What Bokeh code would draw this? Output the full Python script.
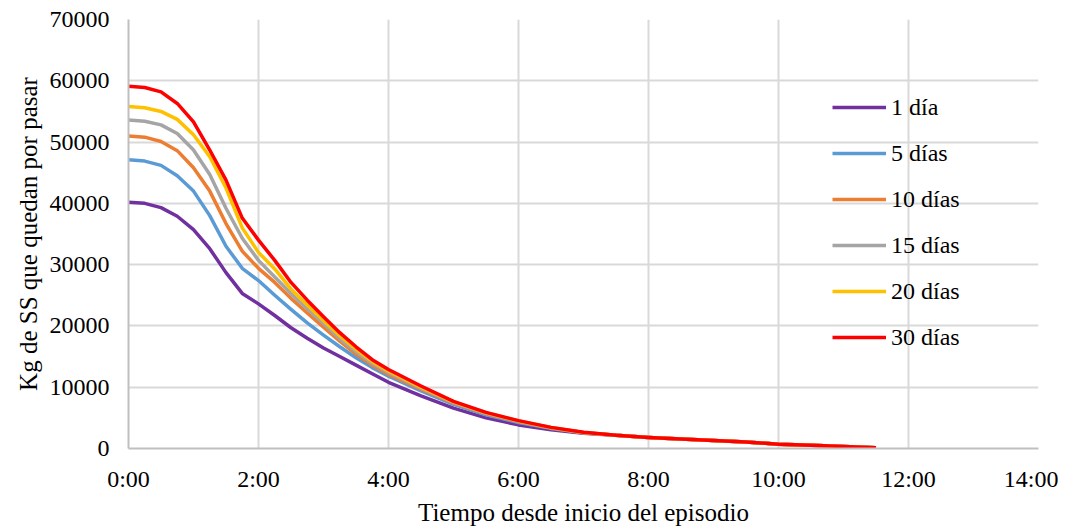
from bokeh.plotting import figure
from bokeh.models import Range1d, FixedTicker, Legend, LegendItem, NumeralTickFormatter
from bokeh.embed import file_html
from bokeh.resources import INLINE

# time in hours since start of the episode
hours = [0, 0.25, 0.5, 0.75, 1.0, 1.25, 1.5, 1.75, 2.0, 2.25, 2.5, 2.75, 3.0, 3.25, 3.5, 3.75,
         4.0, 4.5, 5.0, 5.5, 6.0, 6.5, 7.0, 7.5, 8.0, 8.5, 9.0, 9.5, 10.0, 10.5, 11.0, 11.5]

tail = [2150, 1800, 1550, 1300, 1050, 700, 520, 330, 120]

dia_1 = [40200, 40000, 39300, 37900, 35700, 32600, 28700, 25300, 23600, 21700, 19700, 18000,
         16400, 15000, 13600, 12200, 10800, 8600, 6600, 5000, 3850, 3050, 2480] + tail
dias_5 = [47100, 46900, 46200, 44500, 42000, 38000, 33000, 29400, 27400, 25000, 22700, 20500,
          18500, 16600, 14800, 13200, 11800, 9400, 7200, 5500, 4250, 3280, 2550] + tail
dias_10 = [51000, 50800, 50100, 48600, 45800, 42000, 36700, 32200, 29400, 27100, 24500, 22100,
           19800, 17500, 15400, 13600, 12100, 9700, 7400, 5680, 4400, 3360, 2580] + tail
dias_15 = [53600, 53400, 52800, 51400, 48700, 44700, 39200, 34300, 30700, 28000, 25300, 22800,
           20400, 17900, 15800, 13900, 12400, 9850, 7500, 5750, 4450, 3390, 2600] + tail
dias_20 = [55800, 55600, 55000, 53700, 51200, 47600, 42500, 36000, 32000, 29300, 26000, 23400,
           20900, 18400, 16200, 14200, 12650, 10000, 7600, 5820, 4500, 3420, 2620] + tail
dias_30 = [59100, 58900, 58200, 56300, 53300, 48700, 43800, 37600, 34000, 30700, 27100, 24200,
           21500, 18900, 16600, 14500, 12900, 10200, 7700, 5900, 4550, 3450, 2650] + tail

series_names = ["1 día", "5 días", "10 días", "15 días", "20 días", "30 días"]
series_values = [dia_1, dias_5, dias_10, dias_15, dias_20, dias_30]
colors = ["#7030A0", "#5B9BD5", "#ED7D31", "#A5A5A5", "#FFC000", "#FF0000"]

x_ticks = [0, 2, 4, 6, 8, 10, 12, 14]
x_tick_labels = ["0:00", "2:00", "4:00", "6:00", "8:00", "10:00", "12:00", "14:00"]
y_ticks = [0, 10000, 20000, 30000, 40000, 50000, 60000, 70000]

FONT = "'Liberation Serif', 'Times New Roman', serif"

p = figure(width=1058, height=531, output_backend="svg", toolbar_location=None,
           x_range=Range1d(0, 14), y_range=Range1d(0, 70000))
p.min_border_left = 128
p.min_border_top = 19
p.min_border_bottom = 83
p.min_border_right = 20
p.outline_line_color = None
p.background_fill_color = "white"
p.border_fill_color = "white"

renderers = []
for name, vals, col in zip(series_names, series_values, colors):
    r = p.line(hours, vals, line_color=col, line_width=3.5, line_join="round")
    renderers.append((name, r))

# axes
p.xaxis.ticker = FixedTicker(ticks=x_ticks)
p.xaxis.major_label_overrides = {t: l for t, l in zip(x_ticks, x_tick_labels)}
p.yaxis.ticker = FixedTicker(ticks=y_ticks)
p.yaxis.formatter = NumeralTickFormatter(format="0")

for ax in (p.xaxis, p.yaxis):
    ax.major_tick_line_color = None
    ax.major_tick_out = 0
    ax.major_tick_in = 0
    ax.minor_tick_line_color = None
    ax.minor_tick_out = 0
    ax.axis_line_color = "#bfbfbf"
    ax.axis_line_width = 2
    ax.major_label_text_font = FONT
    ax.major_label_text_font_size = "24px"
    ax.major_label_text_color = "black"
    ax.axis_label_text_font = FONT
    ax.axis_label_text_font_size = "25px"
    ax.axis_label_text_font_style = "normal"
    ax.axis_label_text_color = "black"

p.xaxis.axis_label = "Tiempo desde inicio del episodio"
p.yaxis.axis_label = "Kg de SS que quedan por pasar"
p.xaxis.major_label_standoff = 17
p.xaxis.axis_label_standoff = 4
p.yaxis.major_label_standoff = 19
p.yaxis.axis_label_standoff = 5

for g in (p.xgrid, p.ygrid):
    g.grid_line_color = "#d9d9d9"
    g.grid_line_width = 2
p.xgrid.ticker = FixedTicker(ticks=x_ticks)
p.ygrid.ticker = FixedTicker(ticks=y_ticks)

legend = Legend(items=[LegendItem(label=n, renderers=[r]) for n, r in renderers],
                location=(704, 96))
legend.background_fill_alpha = 0
legend.border_line_color = None
legend.padding = 0
legend.margin = 0
legend.glyph_width = 54
legend.glyph_height = 30
legend.label_height = 30
legend.spacing = 16
legend.label_standoff = 5
legend.label_text_font = FONT
legend.label_text_font_size = "24px"
legend.label_text_color = "black"
p.add_layout(legend, "center")

open("out.html", "w").write(file_html(p, INLINE))
